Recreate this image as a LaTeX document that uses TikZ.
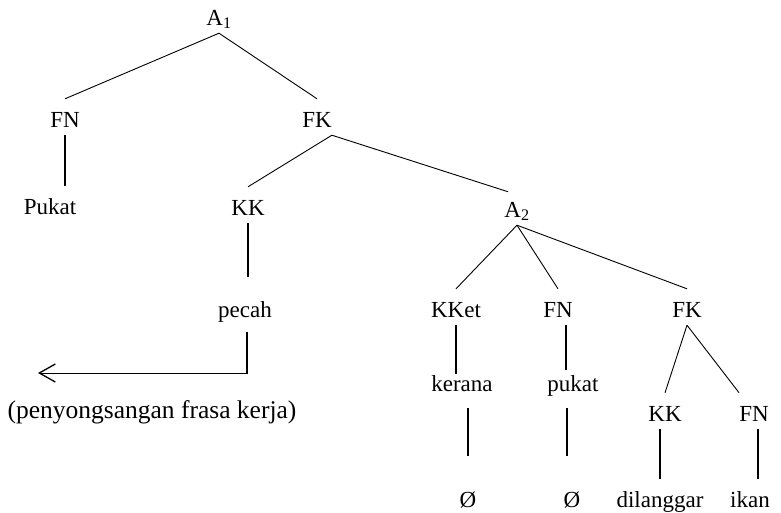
\documentclass[tikz,border=0pt]{standalone}
\usepackage{fontspec}
\setmainfont{Liberation Serif}
\usetikzlibrary{arrows.meta}

\begin{document}
\begin{tikzpicture}[x=1pt, y=-1pt, font=\fontsize{23}{27}\selectfont,
  word/.style={anchor=base, inner sep=0pt, text height=28pt, text depth=8pt},
  branch/.style={line width=0.9pt},
  stem/.style={line width=1.5pt}]

\useasboundingbox (0,0) rectangle (781,512);

% Nodes
\node[word] (A1) at (219,25) {A\textsubscript{1}};
\node[word] (FN1) at (65,127) {FN};
\node[word] (FK1) at (317,127) {FK};
\node[word] (Pukat) at (50,214) {Pukat};
\node[word] (KK1) at (248,215) {KK};
\node[word] (A2) at (517,217) {A\textsubscript{2}};
\node[word] (pecah) at (245,317) {pecah};
\node[word] (KKet) at (456,317) {KKet};
\node[word] (FN2) at (558,317) {FN};
\node[word] (FK2) at (687,317) {FK};
\node[word] (kerana) at (462,391) {kerana};
\node[word] (pukat) at (573,391) {pukat};
\node[word] (KK2) at (665,421) {KK};
\node[word] (FN3) at (754,421) {FN};
\node[word] (nol1) at (468,507) {Ø};
\node[word] (nol2) at (572,507) {Ø};
\node[word] (dilanggar) at (660,507) {dilanggar};
\node[word] (ikan) at (750,507) {ikan};
\node[word, font=\fontsize{25.5}{30}\selectfont] (note) at (152,418) {(penyongsangan frasa kerja)};
\coordinate (tip) at (38,373);

% Branches
\draw[branch] (A1.south) -- (FN1.north);
\draw[branch] (A1.south) -- (FK1.north);
\draw[branch] (FK1.south east) -- (KK1.north);
\draw[branch] (FK1.south east) -- ([xshift=4pt, yshift=-3pt]A2.north west);
\draw[branch] (A2.south) -- (KKet.north);
\draw[branch] (A2.south) -- (FN2.north);
\draw[branch] (A2.south) -- (FK2.north);
\draw[branch] (FK2.south) -- (KK2.north);
\draw[branch] (FK2.south) -- (FN3.north west);

% Stems
\draw[stem] (FN1.south) -- (FN1.south |- Pukat.north);
\draw[stem, shorten >=12pt] (KK1.south) -- (KK1.south |- pecah.north);
\draw[stem, shorten >=-11pt] (KKet.south) -- (KKet.south |- kerana.north);
\draw[stem, shorten >=-7pt] ([xshift=8pt]FN2.south) -- ([xshift=8pt]FN2.south |- pukat.north);
\draw[stem, shorten <=9pt, shorten >=23pt] (nol1.north |- kerana.south) -- (nol1.north);
\draw[stem, shorten <=9pt, shorten >=23pt] ([xshift=-5pt]nol2.north |- pukat.south) -- ([xshift=-5pt]nol2.north);
\draw[stem] (dilanggar.north |- KK2.south) -- (dilanggar.north);
\draw[stem] ([xshift=4pt]FN3.south) -- ([xshift=4pt]FN3.south |- ikan.north);

% Arrow
\draw[stem, shorten <=7pt] ([xshift=2pt]pecah.south) -- ([xshift=2pt]pecah.south |- tip);
\draw[branch, -{Straight Barb[length=16pt, width=18pt, line width=1.3pt]}] ([xshift=2.75pt]pecah.south |- tip) -- (tip);

\end{tikzpicture}
\end{document}
